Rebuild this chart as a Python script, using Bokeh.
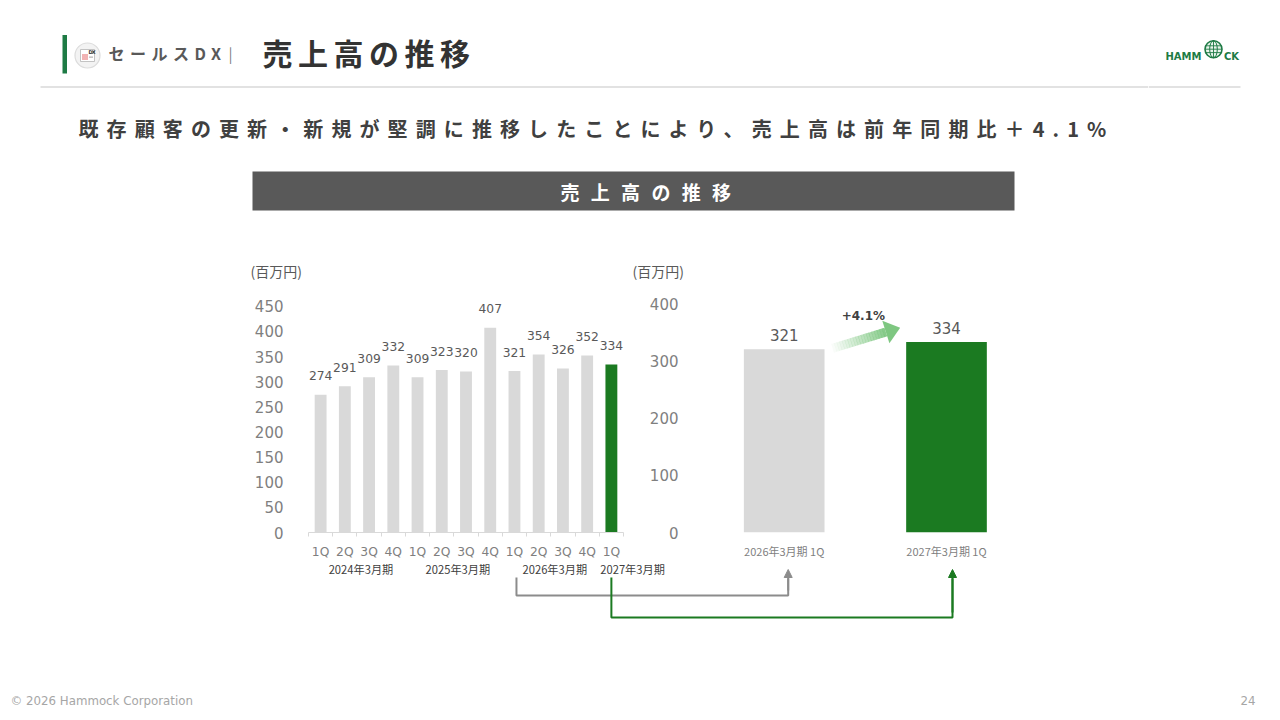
import math
from bokeh.plotting import figure
from bokeh.layouts import column, row
from bokeh.models import Range1d, FixedTicker, Spacer, Arrow, NormalHead
from bokeh.core.properties import value
from bokeh.embed import file_html
from bokeh.resources import INLINE

# ---------------- data ----------------
quarters = ["1Q", "2Q", "3Q", "4Q", "1Q", "2Q", "3Q", "4Q", "1Q", "2Q", "3Q", "4Q", "1Q"]
fiscal_years = ["2024年3月期"] * 4 + ["2025年3月期"] * 4 + ["2026年3月期"] * 4 + ["2027年3月期"]
sales = [274, 291, 309, 332, 309, 323, 320, 407, 321, 354, 326, 352, 334]
left_ticks = [0, 50, 100, 150, 200, 250, 300, 350, 400, 450]
cmp_labels = ["2026年3月期 1Q", "2027年3月期 1Q"]
cmp_values = [321, 334]
right_ticks = [0, 100, 200, 300, 400]
growth_text = "+4.1%"
unit_text = "(百万円)"
section_text = "セールスDX"
title_text = "売上高の推移"
headline_text = "既存顧客の更新・新規が堅調に推移したことにより、売上高は前年同期比＋4.1%"
banner_text = "売上高の推移"
footer_text = "© 2026 Hammock Corporation"
page_text = "24"

# ---------------- style ----------------
JP = "Noto Sans CJK JP"
NUM = "DejaVu Sans"
GRAY_BAR = "#d9d9d9"
GREEN_BAR = "#1b7a21"
AXIS_TXT = "#7f7f7f"
LABEL_TXT = "#595959"
DARK_TXT = "#404040"
BRAND = "#1e7b45"

PAGE_W = 1272


def canvas(w, h, x0, y0, spacing=None):
    p = figure(width=w, height=h, x_range=Range1d(x0, x0 + w), y_range=Range1d(y0 + h, y0),
               output_backend="svg", toolbar_location=None,
               x_axis_location=None, y_axis_location=None, min_border=0,
               outline_line_color=None, border_fill_color="white",
               background_fill_color="white")
    p.grid.visible = False
    if spacing:
        p.styles = {"letter-spacing": spacing}
    return p


def txt(p, x, y, s, size, color, font=JP, bold=False, align="left", **kw):
    p.text(x=[x], y=[y], text=[s], text_align=align, text_baseline="middle",
           text_font=value(font), text_font_size=f"{size}px",
           text_font_style="bold" if bold else "normal", text_color=color, **kw)


# ---------------- header (page coordinates) ----------------
figA = canvas(1148, 100, 0, 0, spacing="5.5px")
figA.quad(left=[62], right=[66.5], top=[34.5], bottom=[73], fill_color=BRAND, line_color=None)
figA.circle(x=[87], y=[55], radius=12.5, fill_color="#f3f3f3", line_color="#dcdcdc", line_width=1.2)
figA.quad(left=[80], right=[94], top=[49], bottom=[61], fill_color="white", line_color="#b5b5b5", line_width=0.8)
figA.quad(left=[81.5], right=[87.5], top=[53.5], bottom=[59.5], fill_color="#f2b3b3", line_color=None)
figA.quad(left=[88.5], right=[92.5], top=[56], bottom=[57.2], fill_color="#b5b5b5", line_color=None)
txt(figA, 90.2, 51.7, "D", 5, "#333333", font=NUM, bold=True, align="center")
txt(figA, 93.2, 51.7, "X", 5, "#333333", font=NUM, bold=True, align="center")
txt(figA, 108, 52.5, section_text, 16, LABEL_TXT, bold=True)
txt(figA, 228, 52.5, "|", 15, AXIS_TXT)
txt(figA, 262, 51, title_text, 30, "#333333", bold=True)
figA.segment(x0=[40], y0=[86.5], x1=[1148], y1=[86.5], line_color="#d9d9d9", line_width=1.5)

figLogo = canvas(124, 100, 1148, 0)
figLogo.segment(x0=[1148], y0=[86.5], x1=[1240], y1=[86.5], line_color="#d9d9d9", line_width=1.5)
txt(figLogo, 1165, 55.7, "HAMM", 10, BRAND, font=NUM, bold=True)
gx, gy, gr = 1213, 48.7, 8.5
figLogo.circle(x=[gx], y=[gy], radius=gr, fill_color="#e9f4ec", line_color=BRAND, line_width=1.6)
figLogo.ellipse(x=[gx], y=[gy], width=gr * 0.9, height=gr * 2, fill_color=None, line_color=BRAND, line_width=1)
figLogo.segment(x0=[gx, gx - gr * 0.95, gx - gr * 0.95, gx - gr],
                y0=[gy - gr, gy - gr * 0.4, gy + gr * 0.4, gy],
                x1=[gx, gx + gr * 0.95, gx + gr * 0.95, gx + gr],
                y1=[gy + gr, gy - gr * 0.4, gy + gr * 0.4, gy], line_color=BRAND, line_width=0.9)
txt(figLogo, 1223.5, 55.7, "CK", 10, BRAND, font=NUM, bold=True)

figB = canvas(PAGE_W, 50, 0, 100, spacing="8.1px")
txt(figB, 78, 128, headline_text, 20, DARK_TXT, bold=True)

figC = canvas(PAGE_W, 80, 0, 150, spacing="11.3px")
figC.quad(left=[252], right=[1014], top=[171], bottom=[210], fill_color="#595959", line_color=None)
txt(figC, 560, 190.5, banner_text, 19, "white", bold=True)

figD = canvas(PAGE_W, 52, 0, 230)
txt(figD, 250, 270, unit_text, 14, LABEL_TXT)
txt(figD, 632, 270, unit_text, 14, LABEL_TXT)

# ---------------- left chart ----------------
ROW_TOP, ROW_H = 282, 279
L_PAGE_X, L_W = 240, 388
L_BL, L_BR, L_BT = 68, 5, 8
L_BB = ROW_H - L_BT - 246
n = len(sales)
l_frame_left = L_PAGE_X + L_BL
l_frame_w = L_W - L_BL - L_BR
l_frame_h = ROW_H - L_BT - L_BB
L_PX_PER_Y = 230 / 450


def lpx(x):
    return l_frame_left + (x - 0.5) * l_frame_w / n


pl = figure(width=L_W, height=ROW_H, x_range=Range1d(0.5, n + 0.5),
            y_range=Range1d(0, l_frame_h / L_PX_PER_Y),
            output_backend="svg", toolbar_location=None,
            min_border_left=L_BL, min_border_right=L_BR, min_border_top=L_BT, min_border_bottom=L_BB,
            outline_line_color=None, border_fill_color="white", background_fill_color="white")
xs = list(range(1, n + 1))
bar_colors = [GRAY_BAR] * (n - 1) + [GREEN_BAR]
pl.vbar(x=xs, top=sales, width=0.49, fill_color=bar_colors, line_color=None)
pl.text(x=xs, y=sales, text=[str(v) for v in sales], y_offset=-19, text_align="center",
        text_baseline="middle", text_font=value(NUM), text_font_size="12.3px", text_color=LABEL_TXT)
pl.xgrid.visible = False
pl.ygrid.visible = False
ya = pl.yaxis[0]
ya.ticker = FixedTicker(ticks=left_ticks)
ya.axis_line_color = None
ya.major_tick_line_color = None
ya.minor_tick_line_color = None
ya.major_tick_out = 0
ya.major_label_standoff = 25
ya.major_label_text_font = NUM
ya.major_label_text_font_size = "15px"
ya.major_label_text_color = AXIS_TXT
xa = pl.xaxis[0]
xa.ticker = FixedTicker(ticks=xs, minor_ticks=[i + 0.5 for i in range(n + 1)])
xa.major_label_overrides = {i + 1: q for i, q in enumerate(quarters)}
xa.axis_line_color = "#d9d9d9"
xa.major_tick_line_color = None
xa.major_tick_out = 0
xa.minor_tick_line_color = "#d9d9d9"
xa.minor_tick_out = 4
xa.minor_tick_in = 0
xa.major_label_standoff = 8
xa.major_label_text_font = NUM
xa.major_label_text_font_size = "12.3px"
xa.major_label_text_color = AXIS_TXT

# ---------------- right chart ----------------
R_PAGE_X, R_W = 628, 412
R_BL, R_BR, R_BT = 62, 10, 8
R_BB = ROW_H - R_BT - 247
r_frame_left = R_PAGE_X + R_BL
r_frame_w = R_W - R_BL - R_BR
r_frame_h = ROW_H - R_BT - R_BB
r_frame_bottom = ROW_TOP + ROW_H - R_BB
R_PX_PER_X = 162.3
R_PX_PER_Y = 233 / 400
r_x0 = 1 - (783.7 - r_frame_left) / R_PX_PER_X


def rpx(x):
    return r_frame_left + (x - r_x0) * R_PX_PER_X


def rpy(v):
    return r_frame_bottom - v * R_PX_PER_Y


def r_data(px, py):
    return r_x0 + (px - r_frame_left) / R_PX_PER_X, (r_frame_bottom - py) / R_PX_PER_Y


pr = figure(width=R_W, height=ROW_H, x_range=Range1d(r_x0, r_x0 + r_frame_w / R_PX_PER_X),
            y_range=Range1d(0, r_frame_h / R_PX_PER_Y),
            output_backend="svg", toolbar_location=None,
            min_border_left=R_BL, min_border_right=R_BR, min_border_top=R_BT, min_border_bottom=R_BB,
            outline_line_color=None, border_fill_color="white", background_fill_color="white")
cx = [1, 2]
BW = 0.497
pr.vbar(x=cx, top=cmp_values, width=BW, fill_color=[GRAY_BAR, GREEN_BAR], line_color=None)
pr.text(x=cx, y=cmp_values, text=[str(v) for v in cmp_values], y_offset=-14, text_align="center",
        text_baseline="middle", text_font=value(NUM), text_font_size="15px", text_color=LABEL_TXT)
pr.xgrid.visible = False
pr.ygrid.visible = False
ya2 = pr.yaxis[0]
ya2.ticker = FixedTicker(ticks=right_ticks)
ya2.axis_line_color = None
ya2.major_tick_line_color = None
ya2.minor_tick_line_color = None
ya2.major_tick_out = 0
ya2.major_label_standoff = 12
ya2.major_label_text_font = NUM
ya2.major_label_text_font_size = "15px"
ya2.major_label_text_color = AXIS_TXT
xa2 = pr.xaxis[0]
xa2.ticker = FixedTicker(ticks=cx)
xa2.major_label_overrides = {c: lab for c, lab in zip(cx, cmp_labels)}
xa2.axis_line_color = None
xa2.major_tick_line_color = None
xa2.minor_tick_line_color = None
xa2.major_tick_out = 0
xa2.major_label_standoff = 10
xa2.major_label_text_font = JP
xa2.major_label_text_font_size = "11px"
xa2.major_label_text_color = AXIS_TXT

# gradient growth arrow between the two bars
tail = (rpx(cx[0] + BW / 2) + 8, rpy(cmp_values[0]) - 1)
tip = (rpx(cx[1] - BW / 2) - 6, rpy(cmp_values[1]) - 14.5)
ddx, ddy = tip[0] - tail[0], tip[1] - tail[1]
alen = math.hypot(ddx, ddy)
ux, uy = ddx / alen, ddy / alen
nx, ny = -uy, ux
HEAD_L, SHAFT_W, HEAD_W = 15, 4.6, 12
shaft_len = alen - HEAD_L
N = 20
pxs, pys, alphas = [], [], []


def pt(a, s):
    return r_data(tail[0] + ux * a + nx * s, tail[1] + uy * a + ny * s)


for i in range(N):
    a0 = shaft_len * i / N
    a1 = min(shaft_len * (i + 1) / N + 0.4, shaft_len)
    corners = [pt(a0, -SHAFT_W), pt(a1, -SHAFT_W), pt(a1, SHAFT_W), pt(a0, SHAFT_W)]
    pxs.append([c[0] for c in corners])
    pys.append([c[1] for c in corners])
    alphas.append(0.03 + 0.8 * ((i + 0.5) / N) ** 1.1)
head = [pt(shaft_len, -HEAD_W), pt(alen, 0), pt(shaft_len, HEAD_W)]
pxs.append([c[0] for c in head])
pys.append([c[1] for c in head])
alphas.append(0.88)
pr.patches(xs=pxs, ys=pys, fill_color="#6cbf70", fill_alpha=alphas, line_color=None)
mid = r_data((tail[0] + tip[0]) / 2, (tail[1] + tip[1]) / 2)
pr.text(x=[mid[0]], y=[mid[1]], text=[growth_text], x_offset=-3, y_offset=-22, text_align="center",
        text_baseline="middle", text_font=value(NUM), text_font_size="12px",
        text_font_style="bold", text_color=DARK_TXT)

# ---------------- bottom (group labels, connectors, footer) ----------------
BOT_TOP = ROW_TOP + ROW_H
BOT_H = 712 - BOT_TOP
pb = canvas(PAGE_W, BOT_H, 0, BOT_TOP)

groups = []
for i, fy in enumerate(fiscal_years):
    if groups and groups[-1][0] == fy:
        groups[-1][1].append(i + 1)
    else:
        groups.append([fy, [i + 1]])
for fy, idx in groups:
    if len(idx) > 1:
        txt(pb, lpx(sum(idx) / len(idx)) + 4, 568, fy, 11.2, DARK_TXT, align="center")
    else:
        txt(pb, lpx(idx[0] - 0.5) + 1, 568, fy, 11.2, DARK_TXT, align="left")

cur_idx = n
prev_idx = n - 4
connectors = [
    (lpx(prev_idx) + 2, 595, rpx(cx[0]) + 4, "#8c8c8c"),
    (lpx(cur_idx), 617, rpx(cx[1]) + 6, GREEN_BAR),
]
for x_from, y_h, x_to, col in connectors:
    pb.line(x=[x_from, x_from, x_to, x_to], y=[577, y_h, y_h, 578], line_color=col, line_width=2)
    pb.add_layout(Arrow(end=NormalHead(size=8, fill_color=col, line_color=col),
                        x_start=x_to, y_start=y_h - 5, x_end=x_to, y_end=569,
                        line_color=col, line_width=2))

txt(pb, 10, 700, footer_text, 11.8, "#a6a6a6", font=NUM)
txt(pb, 1255, 700, page_text, 11.8, "#a6a6a6", font=NUM, align="right")

# ---------------- layout ----------------
header = column(row(figA, figLogo), figB, figC, figD)
charts = row(Spacer(width=L_PAGE_X, height=ROW_H), pl, pr,
             Spacer(width=PAGE_W - L_PAGE_X - L_W - R_W, height=ROW_H))
page = column(header, charts, pb)

open("out.html", "w").write(file_html(page, INLINE, title="売上高の推移"))
